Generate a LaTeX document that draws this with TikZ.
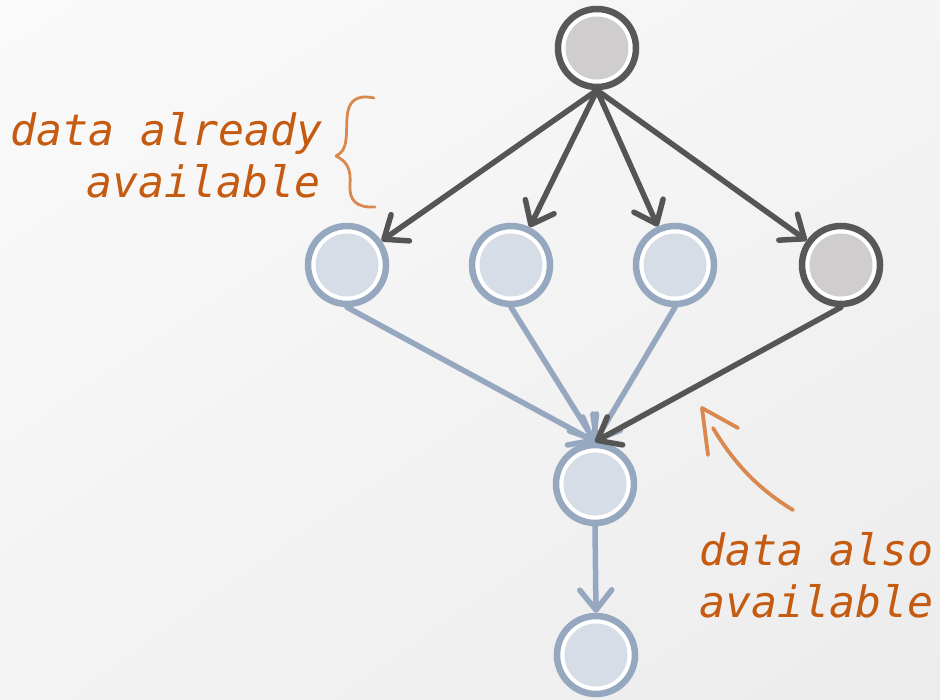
\documentclass[tikz,border=0pt]{standalone}
\usepackage{fontspec}
\newfontfamily\annofont{DejaVu Sans Mono}
\usetikzlibrary{arrows.meta,shadings}
\definecolor{ringdark}{HTML}{585858}
\definecolor{filldark}{HTML}{D0CDCE}
\definecolor{ringblue}{HTML}{96A8C0}
\definecolor{fillblue}{HTML}{D7DDE7}
\definecolor{edgedark}{HTML}{555555}
\definecolor{annotext}{HTML}{C55A11}
\definecolor{annoline}{HTML}{D9884F}
\definecolor{bgul}{HTML}{FAFAFA}
\definecolor{bgur}{HTML}{F4F4F4}
\definecolor{bgll}{HTML}{F3F3F3}
\definecolor{bglr}{HTML}{ECECEC}
\tikzset{
  basenode/.style={circle, line width=6.5pt, fill=white, minimum size=78pt, inner sep=0pt},
  darknode/.style={basenode, draw=ringdark, path picture={\fill[filldark] (path picture bounding box.center) circle (31.5pt);}},
  bluenode/.style={basenode, draw=ringblue, path picture={\fill[fillblue] (path picture bounding box.center) circle (31.5pt);}},
  darkedge/.style={draw=edgedark, line width=5.5pt, line cap=round, -{Straight Barb[length=20pt,width=32pt,round]}},
  blueedge/.style={draw=ringblue, line width=5.5pt, line cap=round, -{Straight Barb[length=20pt,width=32pt,round]}},
  annotxt/.style={text=annotext, font=\annofont\itshape\fontsize{43.2}{52}\selectfont, inner sep=0pt},
  annopath/.style={draw=annoline, line width=3.8pt, line cap=round, line join=round},
}
\begin{document}
\begin{tikzpicture}[x=1pt,y=-1pt]
\shade[upper left=bgul, upper right=bgur, lower left=bgll, lower right=bglr]
  (0,0) rectangle (940,699);
\useasboundingbox (0,0) rectangle (940,699);

\node[darknode] (t) at (597,48) {};
\node[bluenode] (a) at (347,265) {};
\node[bluenode] (b) at (511,265) {};
\node[bluenode] (c) at (675,265) {};
\node[darknode] (d) at (841,265) {};
\node[bluenode] (m) at (595,484) {};
\node[bluenode] (e) at (596,655) {};

\draw[darkedge] (t.south) -- (a);
\draw[darkedge] (t.south) -- (b);
\draw[darkedge] (t.south) -- (c);
\draw[darkedge] (t.south) -- (d);
\draw[blueedge] (a.south) -- (m.north);
\draw[blueedge] (b.south) -- (m.north);
\draw[blueedge] (c.south) -- (m.north);
\draw[darkedge] (d.south) -- (m.north);
\draw[blueedge] (m.south) -- (e.north);

\node[annotxt, anchor=base east] (l1) at (323,145) {data already};
\node[annotxt, anchor=base east] (l2) at (321,197) {available};
\node[annotxt, anchor=base west] (r1) at (699,565) {data also};
\node[annotxt, anchor=base west] (r2) at (699,617) {available};

% brace
\draw[annopath, line width=2.8pt] (374,98) .. controls (355,94) and (348,102) .. (347,118)
  .. controls (346,138) and (348,150) .. (336,156)
  .. controls (348,162) and (351,170) .. (350,185)
  .. controls (349,200) and (356,208) .. (375,207);

% curved arrow
\draw[annopath] (793,510) .. controls (760,490) and (735,465) .. (713,428);
\draw[annopath] (708,455) -- (702,408) -- (738,428);
\end{tikzpicture}
\end{document}
